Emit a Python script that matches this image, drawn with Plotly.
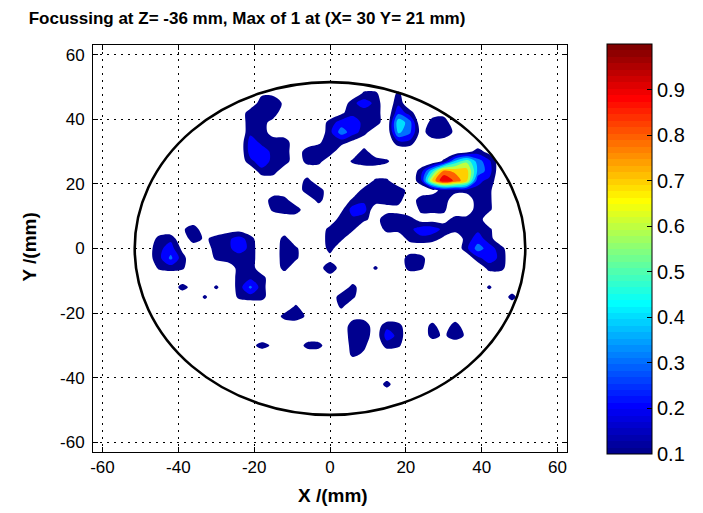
import plotly.graph_objects as go

# ---------------- text ----------------
TITLE = "Focussing at Z= -36 mm, Max of 1 at (X= 30 Y= 21 mm)"
X_TITLE = "X /(mm)"
Y_TITLE = "Y /(mm)"
AXIS_TICKS = [-60, -40, -20, 0, 20, 40, 60]
AXIS_TICK_LABELS = ["-60", "-40", "-20", "0", "20", "40", "60"]
CBAR_TICKS = [0.1, 0.2, 0.3, 0.4, 0.5, 0.6, 0.7, 0.8, 0.9]
CBAR_TICK_LABELS = ["0.1", "0.2", "0.3", "0.4", "0.5", "0.6", "0.7", "0.8", "0.9"]

# ---------------- data ----------------
COLOR_MIN, COLOR_MAX = 0.1, 1.0          # colour limits of the map
LEVEL_START, LEVEL_END, LEVEL_STEP = 0.1, 0.9, 0.1   # filled contour levels
APERTURE_RADIUS_MM = 51.5                # outline circle

# sample grid (mm)
GRID_X_MM = [-51, -48, -45, -42, -39, -36, -33, -30, -27, -24, -21, -18, -15, -12,
             -9, -6, -3, 0, 3, 6, 9, 12, 15, 18, 21, 24, 27, 30, 33, 36, 39, 42,
             45, 48, 51]
GRID_Y_MM = [51, 48, 45, 42, 39, 36, 33, 30, 27, 24, 21, 18, 15, 12, 9, 6, 3, 0,
             -3, -6, -9, -12, -15, -18, -21, -24, -27, -30, -33, -36, -39, -42,
             -45, -48, -51]

# normalised amplitude read from the map; each character is one sample,
# value = CODE.index(char) / 40   ('.' = 0, 'E' = 1.0)
CODE = ".123456789abcdefghijklmnopqrstuvwxyzABCDE"
Z_ROWS = [
    "...................................",  # y = 51
    "...........33.......55.5...........",  # 48
    "...........773.....7a7.7...........",  # 45
    "..........767.....3767.b6.22.......",  # 42
    "..........762....6aa77.je.67.......",  # 39
    "..........762....7ea6..hd2773......",  # 36
    "..........a767..3763...77.22.......",  # 33
    "..........aa77.777..6........262...",  # 30
    "..........7a77.66..5775....5hne9...",  # 27
    "...........77............6jxvufa...",  # 24
    "...............6.....55..7tEzt97...",  # 21
    "...............77...67772.266675...",  # 18
    "............76..6..57766.777..75...",  # 15
    "............577...3aa.22.555..75...",  # 12
    "..................7752776222667....",  # 9
    "....37..22.......675..667aa76675...",  # 6
    "..67.7367a6..6...75.....6763.6a6...",  # 3
    ".27a3..77a7..75..6...........7ea6..",  # 0
    ".27d6..5767..75..2......76....7a7..",  # -3
    "..565....67..6..272..5..65.....66..",  # -6
    ".........676.....2.................",  # -9
    "....62.5.6d6.......6...........5...",  # -12
    "......5..566......75.............6.",  # -15
    "..............5...5................",  # -18
    ".............673...22..............",  # -21
    "...................77176..6.7......",  # -24
    "...................771a7..6373.....",  # -27
    "..........263..66..65.65...........",  # -30
    "...................53..............",  # -33
    "...................................",  # -36
    "...................................",  # -39
    "......................6............",  # -42
    "...................................",  # -45
    "...................................",  # -48
    "...................................",  # -51
]

for row in Z_ROWS:
    assert len(row) == len(GRID_X_MM), row
assert len(Z_ROWS) == len(GRID_Y_MM)

Z = [[CODE.index(ch) / 40.0 for ch in row] for row in Z_ROWS]
z_asc = Z[::-1]
y_asc = GRID_Y_MM[::-1]


# ---------------- colours (MATLAB jet, 64 entries) ----------------
def jet64(i):
    """1-based index into a 64-entry jet colormap."""
    def c(t):
        return max(0.0, min(1.0, t))
    r = c(min((i - 24) / 16.0, (72 - i) / 16.0))
    g = c(min((i - 8) / 16.0, (56 - i) / 16.0))
    b = c(min((i + 8) / 16.0, (40 - i) / 16.0))
    return "rgb(%d,%d,%d)" % (round(r * 255), round(g * 255), round(b * 255))


def jet_index(value):
    idx = int((value - COLOR_MIN) / (COLOR_MAX - COLOR_MIN) * 64 + 1e-9) + 1
    return max(1, min(64, idx))


n_levels = int(round((LEVEL_END - LEVEL_START) / LEVEL_STEP)) + 1   # 9
levels = [LEVEL_START + k * LEVEL_STEP for k in range(n_levels)]
band_colors = ["rgba(255,255,255,0)"] + [jet64(jet_index(lv)) for lv in levels]
band_scale = []
for k, col in enumerate(band_colors):
    lo = max(0.0, (k - 0.5) / n_levels)
    hi = min(1.0, (k + 0.5) / n_levels)
    band_scale.append([lo, col])
    band_scale.append([hi, col])

cbar_scale = []
for i in range(1, 65):
    cbar_scale.append([(i - 1) / 64.0, jet64(i)])
    cbar_scale.append([i / 64.0, jet64(i)])

FONT = "Liberation Sans, Arial, Helvetica, sans-serif"

fig = go.Figure()
fig.add_trace(go.Contour(
    x=GRID_X_MM, y=y_asc, z=z_asc,
    autocontour=False,
    contours=dict(start=LEVEL_START, end=LEVEL_END, size=LEVEL_STEP,
                  coloring="fill", showlines=False),
    colorscale=band_scale, showscale=False,
    line=dict(width=0, smoothing=0.9),
    hoverinfo="skip",
))

W, H = 703, 513
L, R, T, B = 93, 132, 45, 61
pw, ph = W - L - R, H - T - B
fig.add_trace(go.Scatter(
    x=[0], y=[0], mode="markers", hoverinfo="skip", showlegend=False,
    marker=dict(size=0, opacity=0, color=[COLOR_MIN], cmin=COLOR_MIN, cmax=COLOR_MAX,
                colorscale=cbar_scale, showscale=True,
                colorbar=dict(x=(611 - L) / pw, xanchor="left", xpad=0, ypad=0,
                              y=(H - B - 249) / ph, yanchor="middle",
                              len=410, lenmode="pixels",
                              thickness=45, thicknessmode="pixels",
                              outlinewidth=1, outlinecolor="black",
                              tickvals=CBAR_TICKS, ticktext=CBAR_TICK_LABELS,
                              ticks="inside", ticklen=5, tickcolor="black",
                              tickfont=dict(family=FONT, size=20, color="black"))),
))

fig.add_shape(type="circle", xref="x", yref="y",
              x0=-APERTURE_RADIUS_MM, x1=APERTURE_RADIUS_MM,
              y0=-APERTURE_RADIUS_MM, y1=APERTURE_RADIUS_MM,
              line=dict(color="black", width=2.6), layer="above")

axis_style = dict(
    showgrid=True, gridcolor="#000000", gridwidth=1, griddash="2px,5px",
    zeroline=False, showline=True, linecolor="black", linewidth=1,
    mirror="ticks", ticks="inside", ticklen=5, tickwidth=1, tickcolor="black",
    tickvals=AXIS_TICKS, ticktext=AXIS_TICK_LABELS, automargin=False,
    tickfont=dict(family=FONT, size=17, color="black"),
)
fig.update_xaxes(range=[-62.5, 62.5], **axis_style)
fig.update_yaxes(range=[-63, 63], ticklabelstandoff=4, **axis_style)

fig.add_annotation(text=X_TITLE, xref="paper", yref="paper",
                   x=(335 - L) / pw, y=(H - B - 495) / ph, xanchor="center", yanchor="middle",
                   showarrow=False, font=dict(family=FONT, size=19, color="black", weight="bold"))
fig.add_annotation(text=Y_TITLE, xref="paper", yref="paper", textangle=-90,
                   x=(28 - L) / pw, y=(H - B - 247) / ph, xanchor="center", yanchor="middle",
                   showarrow=False, font=dict(family=FONT, size=19, color="black", weight="bold"))

fig.update_layout(
    width=W, height=H,
    margin=dict(l=L, r=R, t=T, b=B, pad=0),
    paper_bgcolor="white", plot_bgcolor="white",
    showlegend=False,
    title=dict(text=TITLE, x=247 / W, xanchor="center", y=1 - 18.5 / H, yanchor="middle",
               font=dict(family=FONT, size=17, color="black", weight="bold")),
)

fig.write_html("out.html",
               config={"displayModeBar": False, "staticPlot": True},
               post_script="document.body.style.margin='0';document.body.style.overflow='hidden';")
